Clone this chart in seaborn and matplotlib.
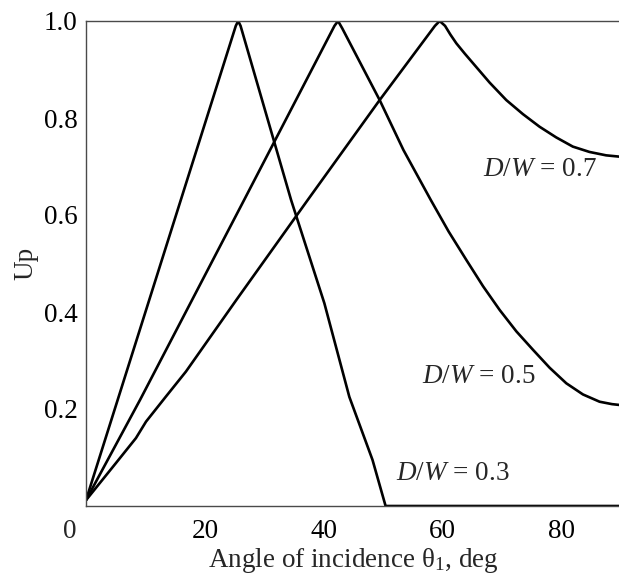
import matplotlib
matplotlib.use("Agg")
import matplotlib.pyplot as plt
import seaborn as sns
import pandas as pd

# ---- data ----
x_03 = [0, 25.2, 25.6, 26.0, 34.5, 40.1, 44.3, 48.2, 50.4, 90]
y_03 = [0.012, 0.99, 1.0, 0.99, 0.631, 0.418, 0.225, 0.095, 0.0, 0.0]

x_05 = [0, 9.1, 26.6, 41.8, 42.4, 43.1, 49.4, 53.4, 58.0, 61.0, 64.0, 66.8, 69.6,
        72.4, 75.2, 78.0, 80.8, 83.6, 86.4, 88.5, 90]
y_05 = [0.012, 0.219, 0.631, 0.99, 1.0, 0.985, 0.837, 0.734, 0.631, 0.566, 0.507, 0.453, 0.404,
        0.360, 0.322, 0.285, 0.253, 0.230, 0.215, 0.210, 0.208]

x_07 = [0, 5.0, 8.4, 10.1, 13.4, 16.8, 25.3, 37.3, 49.4, 58.7, 59.5, 60.4, 61.3, 62.3, 63.7, 65.1,
        67.9, 70.7, 73.5, 76.3, 79.1, 81.9, 84.7, 87.5, 90]
y_07 = [0.012, 0.088, 0.14, 0.174, 0.225, 0.277, 0.425, 0.631, 0.837, 0.99, 1.0, 0.99, 0.972, 0.954, 0.933, 0.913,
        0.873, 0.837, 0.808, 0.782, 0.760, 0.741, 0.730, 0.723, 0.720]

ratios = ["0.3", "0.5", "0.7"]
x_ticks = [20, 40, 60, 80]
y_ticks = [0.2, 0.4, 0.6, 0.8, 1.0]
y_ticklabels = ["0.2", "0.4", "0.6", "0.8", "1.0"]

frames = []
for r, xs, ys in zip(ratios, [x_03, x_05, x_07], [y_03, y_05, y_07]):
    frames.append(pd.DataFrame({"x": xs, "y": ys, "ratio": r}))
df = pd.concat(frames, ignore_index=True)

sns.set_style("white")
plt.rcParams["font.family"] = ["Liberation Serif", "DejaVu Serif"]
plt.rcParams["mathtext.fontset"] = "custom"
plt.rcParams["mathtext.rm"] = "Liberation Serif"
plt.rcParams["mathtext.it"] = "Liberation Serif:italic"

FS = 19.5

fig = plt.figure(figsize=(6.19, 5.75), dpi=100)
ax = fig.add_axes([86 / 619, 69 / 575, 535 / 619, 485 / 575])

sns.lineplot(data=df, x="x", y="y", hue="ratio", units="ratio", estimator=None,
             sort=False, palette=["black"] * 3, linewidth=1.9, legend=False, ax=ax,
             solid_joinstyle="round")

ax.set_xlim(0, 90)
ax.set_ylim(0, 1.0)
ax.set_xticks(x_ticks)
ax.set_xticklabels([str(t) for t in x_ticks])
ax.set_yticks(y_ticks)
ax.set_yticklabels(y_ticklabels)

for s in ["left", "bottom", "top"]:
    ax.spines[s].set_visible(True)
    ax.spines[s].set_color("#4a4a4a")
    ax.spines[s].set_linewidth(1.0)
ax.spines["right"].set_visible(False)

ax.tick_params(axis="both", direction="in", length=7, width=1.0, color="#4a4a4a",
               labelsize=FS, labelcolor="black")
ax.tick_params(axis="y", pad=6)
ax.tick_params(axis="x", pad=9)

ax.annotate("0", xy=(0, 0), xycoords="data", xytext=(-16, -26), textcoords="offset pixels",
            ha="center", va="center", fontsize=FS)

ax.set_xlabel(r"Angle of incidence θ$_1$, deg", fontsize=FS, labelpad=2)
ax.set_ylabel("Up", fontsize=FS, labelpad=4)

ax.text(85.9, 0.693, r"$D/W$ = 0.7", ha="right", va="center", fontsize=FS)
ax.text(75.7, 0.267, r"$D/W$ = 0.5", ha="right", va="center", fontsize=FS)
ax.text(71.3, 0.067, r"$D/W$ = 0.3", ha="right", va="center", fontsize=FS)

fig.savefig("out.png", dpi=100)
